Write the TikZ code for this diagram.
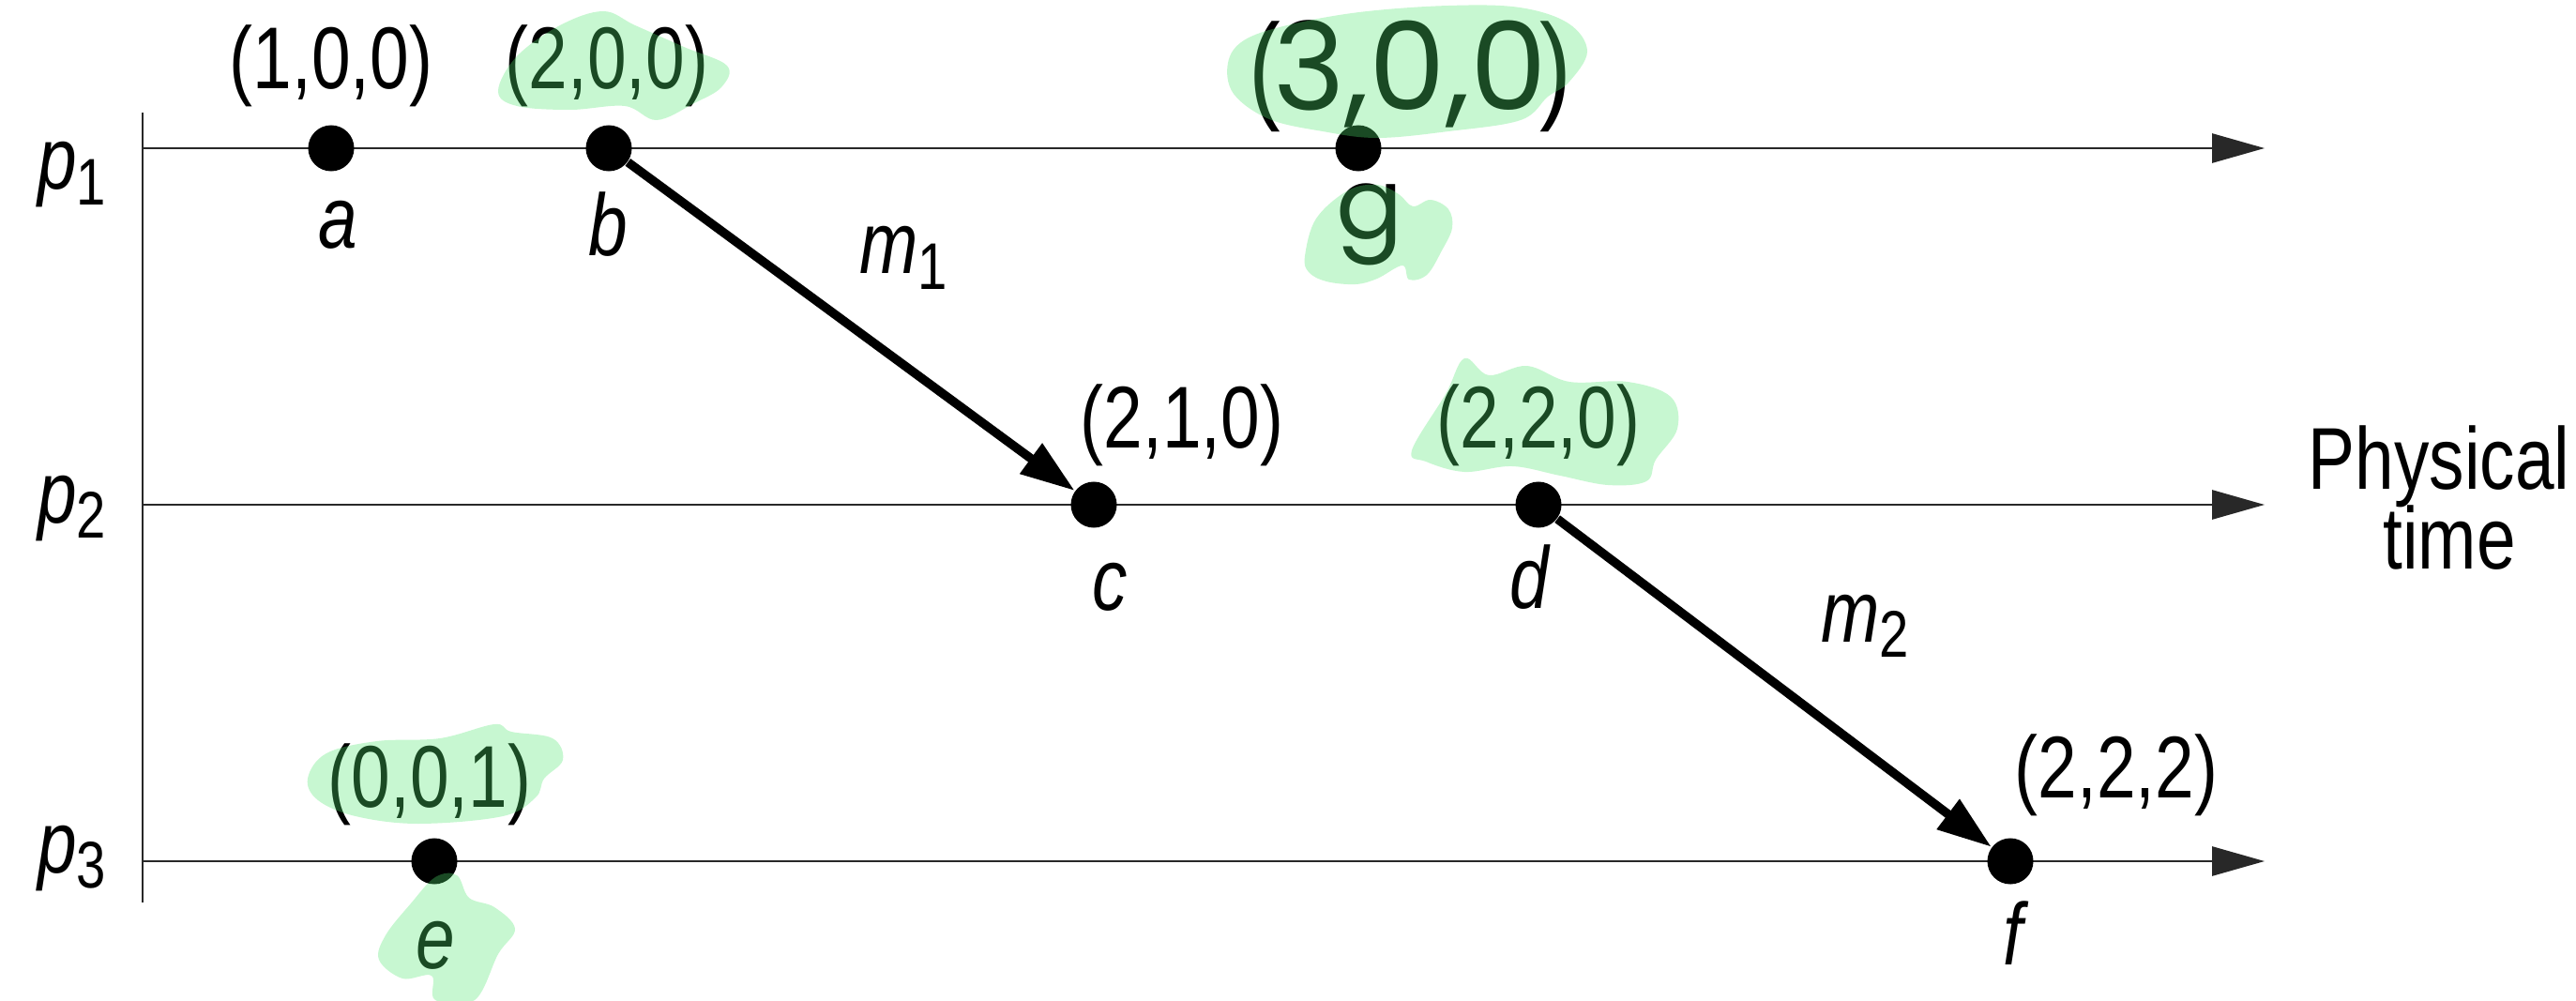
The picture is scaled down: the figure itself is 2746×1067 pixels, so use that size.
\documentclass[tikz,border=0pt]{standalone}
\usepackage{fontspec}
\setmainfont{Liberation Sans}[FakeStretch=0.8]
\newfontfamily\gfont{Poppins}
\usetikzlibrary{arrows.meta}
\definecolor{hlgreen}{RGB}{81,231,112}
\definecolor{axisgray}{RGB}{40,40,40}
\newcommand{\subl}[1]{\raisebox{-4.6pt}{\fontsize{20pt}{24pt}\selectfont\upshape #1}}
\begin{document}
\begin{tikzpicture}[x=0.01cm, y=-0.01cm,
  lbl/.style={inner sep=0, outer sep=0, anchor=base, font=\fontsize{26.6pt}{32pt}\selectfont},
  ilbl/.style={lbl, font=\fontsize{26.6pt}{32pt}\selectfont\itshape},
  evdot/.style={circle, fill=black, inner sep=0, minimum size=0.49cm},
  tline/.style={draw=axisgray, line width=0.8pt, -{Triangle[length=0.56cm, width=0.31cm]}},
  axline/.style={draw=axisgray, line width=0.8pt},
  msg/.style={draw=black, line width=2.7pt, -{Triangle[length=0.58cm, width=0.38cm]}},
  hl/.style={fill=hlgreen, fill opacity=0.32, draw=none}]
\useasboundingbox (0,0) rectangle (2746,1067);

% process lines
\coordinate (vtop) at (152,120);
\coordinate (vbot) at (152,962);
\coordinate (l1s) at (152,158);
\coordinate (l1e) at (2414,158);
\coordinate (l2s) at (152,538);
\coordinate (l2e) at (2414,538);
\coordinate (l3s) at (152,918);
\coordinate (l3e) at (2414,918);
\draw[axline] (vtop) -- (vbot);
\draw[tline] (l1s) -- (l1e);
\draw[tline] (l2s) -- (l2e);
\draw[tline] (l3s) -- (l3e);

% process labels
\node[ilbl, anchor=base west] (p1) at (40,202) {p\subl{1}};
\node[ilbl, anchor=base west] (p2) at (40,557) {p\subl{2}};
\node[ilbl, anchor=base west] (p3) at (40,930) {p\subl{3}};

% events
\node[evdot] (a) at (353,158) {};
\node[evdot] (b) at (649,158) {};
\node[evdot] (g) at (1448,158) {};
\node[evdot] (c) at (1166,538) {};
\node[evdot] (d) at (1640,538) {};
\node[evdot] (e) at (463,918) {};
\node[evdot] (f) at (2143,918) {};

% messages
\draw[msg] (b) -- (c);
\draw[msg] (d) -- (f);
\node[ilbl, anchor=base west] (m1) at (916,292) {m\subl{1}};
\node[ilbl, anchor=base west] (m2) at (1941,684) {m\subl{2}};

% event names
\node[ilbl] (na) at (360,265) {a};
\node[ilbl] (nb) at (648,273) {b};
\node[ilbl] (nc) at (1183,650) {c};
\node[ilbl] (nd) at (1630,648) {d};
\node[ilbl] (ne) at (464,1032) {e};
\node[ilbl] (nf) at (2146,1028) {f};
\node[lbl, font=\fontsize{30pt}{36pt}\gfont] (ng) at (1460,255) {g};

% vector timestamps
\node[lbl] (va) at (353,95) {(1,0,0)};
\node[lbl] (vb) at (647,95) {(2,0,0)};
\node[lbl] (vc) at (1260,477) {(2,1,0)};
\node[lbl] (vd) at (1640,477) {(2,2,0)};
\node[lbl] (ve) at (458,860) {(0,0,1)};
\node[lbl] (vf) at (2256,850) {(2,2,2)};
\node[lbl, font=\fontsize{36pt}{40pt}\selectfont] (vgl) at (1348,115) {(};
\node[lbl, font=\fontsize{37pt}{42pt}\gfont] (vg) at (1503,118) {3,0,0};
\node[lbl, font=\fontsize{36pt}{40pt}\selectfont] (vgr) at (1658,115) {)};

% axis caption
\node[lbl] (phys) at (2600,521) {Physical};
\node[lbl] (time) at (2611,606) {time};

% highlighter marks
\fill[hl] plot[smooth cycle, tension=0.6] coordinates {(531,97) (551,60) (597,27) (643,12) (677,27) (729,50) (775,70) (769,93) (740,110) (700,128) (666,113) (608,117) (551,113)};
\fill[hl] plot[smooth cycle, tension=0.6] coordinates {(1309,67) (1326,43) (1372,27) (1449,13) (1544,6) (1620,8) (1672,25) (1692,55) (1672,88) (1650,103) (1621,128) (1544,140) (1468,147) (1410,140) (1353,127) (1315,100)};
\fill[hl] plot[smooth cycle, tension=0.6] coordinates {(1391,273) (1403,233) (1437,203) (1468,197) (1491,207) (1506,220) (1525,213) (1544,223) (1548,243) (1537,267) (1521,293) (1502,298) (1495,283) (1468,297) (1445,303) (1414,300) (1395,290)};
\fill[hl] plot[smooth cycle, tension=0.6] coordinates {(1505,480) (1541,420) (1561,382) (1587,400) (1628,390) (1673,407) (1735,407) (1781,423) (1788,457) (1765,490) (1755,513) (1714,517) (1663,507) (1612,497) (1561,503) (1520,492)};
\fill[hl] plot[smooth cycle, tension=0.6] coordinates {(328,830) (348,803) (402,790) (469,787) (527,772) (545,780) (589,787) (600,810) (580,830) (571,850) (536,870) (446,878) (379,870) (339,853)};
\fill[hl] plot[smooth cycle, tension=0.6] coordinates {(464,935) (487,933) (500,957) (527,967) (549,990) (531,1017) (506,1066) (464,1066) (460,1040) (429,1043) (404,1023) (411,997) (438,963)};
\end{tikzpicture}
\end{document}
